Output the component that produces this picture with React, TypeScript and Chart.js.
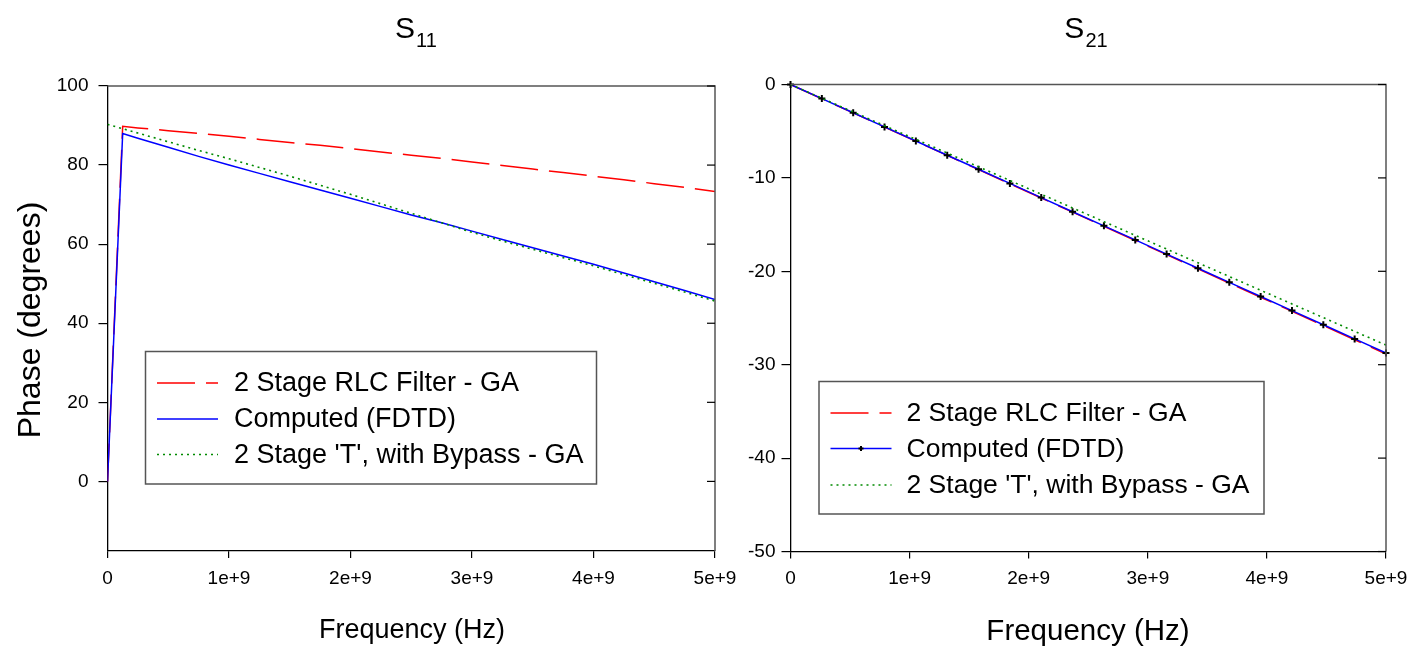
import React, { useEffect, useRef } from "react";
import { Chart, registerables } from "chart.js";

Chart.register(...registerables);

const FONT = '"Liberation Sans", Arial, Helvetica, sans-serif';

// ---------- data ----------
const SERIES_NAMES = ["2 Stage RLC Filter - GA", "Computed (FDTD)", "2 Stage 'T', with Bypass - GA"];

const X_TICKS = [0, 1e9, 2e9, 3e9, 4e9, 5e9];
const S11_Y_TICKS = [0, 20, 40, 60, 80, 100];
const S21_Y_TICKS = [0, -10, -20, -30, -40, -50];

const S11_FREQ = [0, 0.125e9, 0.25e9, 0.5e9, 0.75e9, 1.0e9, 1.25e9, 1.5e9, 1.75e9, 2.0e9, 2.25e9, 2.5e9, 2.75e9, 3.0e9, 3.25e9, 3.5e9, 3.75e9, 4.0e9, 4.25e9, 4.5e9, 4.75e9, 5.0e9];
const S11_RLC = [0, 89.8, 89.4, 88.7, 88.0, 87.3, 86.5, 85.7, 85.0, 84.2, 83.3, 82.5, 81.7, 80.8, 79.9, 79.0, 78.1, 77.2, 76.3, 75.3, 74.4, 73.3];
const S11_FDTD = [0, 88.0, 86.8, 84.5, 82.2, 80.0, 77.9, 75.8, 73.7, 71.6, 69.5, 67.4, 65.4, 63.3, 61.2, 59.1, 57.0, 54.9, 52.7, 50.5, 48.3, 46.0];
const S11_TBYPASS = [90.3, 89.2, 88.1, 85.9, 83.7, 81.6, 79.4, 77.2, 74.9, 72.6, 70.2, 67.8, 65.4, 63.0, 60.8, 58.7, 56.6, 54.5, 52.3, 50.1, 47.9, 45.6];

const S21_FREQ = [0, 0.2632e9, 0.5263e9, 0.7895e9, 1.0526e9, 1.3158e9, 1.5789e9, 1.8421e9, 2.1053e9, 2.3684e9, 2.6316e9, 2.8947e9, 3.1579e9, 3.4211e9, 3.6842e9, 3.9474e9, 4.2105e9, 4.4737e9, 4.7368e9, 5.0e9];
const S21_RLC = [0, -1.52, -3.04, -4.56, -6.07, -7.59, -9.11, -10.63, -12.15, -13.67, -15.18, -16.70, -18.22, -19.74, -21.26, -22.78, -24.29, -25.81, -27.33, -28.85];
const S21_FDTD = [0, -1.51, -3.03, -4.54, -6.05, -7.57, -9.08, -10.59, -12.11, -13.62, -15.13, -16.64, -18.16, -19.67, -21.18, -22.70, -24.21, -25.72, -27.24, -28.75];
const S21_TBYPASS = [0, -1.47, -2.94, -4.41, -5.87, -7.34, -8.81, -10.28, -11.75, -13.22, -14.68, -16.15, -17.62, -19.09, -20.56, -22.03, -23.49, -24.96, -26.43, -27.90];

// ---------- styles ----------
const RED = "#ff0000";
const BLUE = "#0000ff";
const GREEN = "#008a00";
const RED_DASH = [38, 11];
const GREEN_DASH = [2, 4];

const zip = (xs: number[], ys: number[]) => xs.map((x, i) => ({ x, y: ys[i] }));
const fmtFreq = (v: number) => (v === 0 ? "0" : `${Math.round(v / 1e9)}e+9`);

type LegendCfg = { x: number; y: number; w: number; h: number; rows: number[]; sx0: number; sx1: number; tx: number; size: number; marker: boolean };
type DecorCfg = {
  id: string;
  yTicks: number[];
  tick: number;
  title: string;
  sub: string;
  titleCx: number;
  titleY: number;
  xTitle: string;
  xTitleCx: number;
  xTitleY: number;
  xTitleSize: number;
  yTitle?: string;
  yTitleX?: number;
  yTitleCy?: number;
  yTitleSize?: number;
  legend: LegendCfg;
};

function drawCross(ctx: CanvasRenderingContext2D, x: number, y: number, r: number) {
  ctx.beginPath();
  ctx.moveTo(x - r, y);
  ctx.lineTo(x + r, y);
  ctx.moveTo(x, y - r);
  ctx.lineTo(x, y + r);
  ctx.stroke();
}

function decorPlugin(cfg: DecorCfg) {
  return {
    id: cfg.id,
    afterDraw(chart: any) {
      const { ctx, chartArea: a, scales } = chart;
      const ys = scales.y;
      ctx.save();
      // frame (top & right)
      ctx.setLineDash([]);
      ctx.strokeStyle = "#555";
      ctx.lineWidth = 1.5;
      ctx.beginPath();
      ctx.moveTo(a.left, a.top);
      ctx.lineTo(a.right, a.top);
      ctx.lineTo(a.right, a.bottom);
      ctx.stroke();
      // inward ticks on right side
      ctx.strokeStyle = "#000";
      ctx.lineWidth = 1.2;
      for (const v of cfg.yTicks) {
        const py = ys.getPixelForValue(v);
        ctx.beginPath();
        ctx.moveTo(a.right - cfg.tick, py);
        ctx.lineTo(a.right, py);
        ctx.stroke();
      }
      // title with subscript
      ctx.fillStyle = "#000";
      ctx.textBaseline = "alphabetic";
      ctx.textAlign = "left";
      ctx.font = `30px ${FONT}`;
      const wS = ctx.measureText(cfg.title).width;
      ctx.font = `20px ${FONT}`;
      const wSub = ctx.measureText(cfg.sub).width;
      const x0 = cfg.titleCx - (wS + 1 + wSub) / 2;
      ctx.font = `30px ${FONT}`;
      ctx.fillText(cfg.title, x0, cfg.titleY);
      ctx.font = `20px ${FONT}`;
      ctx.fillText(cfg.sub, x0 + wS + 1, cfg.titleY + 8.5);
      // x axis title
      ctx.textAlign = "center";
      ctx.textBaseline = "middle";
      ctx.font = `${cfg.xTitleSize}px ${FONT}`;
      ctx.fillText(cfg.xTitle, cfg.xTitleCx, cfg.xTitleY);
      // y axis title
      if (cfg.yTitle) {
        ctx.save();
        ctx.translate(cfg.yTitleX!, cfg.yTitleCy!);
        ctx.rotate(-Math.PI / 2);
        ctx.font = `${cfg.yTitleSize}px ${FONT}`;
        ctx.fillText(cfg.yTitle, 0, 0);
        ctx.restore();
      }
      // legend
      const L = cfg.legend;
      ctx.fillStyle = "#fff";
      ctx.fillRect(L.x, L.y, L.w, L.h);
      ctx.strokeStyle = "#555";
      ctx.lineWidth = 1.5;
      ctx.strokeRect(L.x, L.y, L.w, L.h);
      const colors = [RED, BLUE, GREEN];
      const dashes = [RED_DASH, [], GREEN_DASH];
      ctx.textAlign = "left";
      ctx.textBaseline = "middle";
      ctx.font = `${L.size}px ${FONT}`;
      SERIES_NAMES.forEach((name, i) => {
        const ry = L.rows[i];
        ctx.strokeStyle = colors[i];
        ctx.lineWidth = 1.5;
        ctx.setLineDash(dashes[i]);
        ctx.beginPath();
        ctx.moveTo(L.sx0, ry);
        ctx.lineTo(L.sx1, ry);
        ctx.stroke();
        ctx.setLineDash([]);
        if (i === 1 && L.marker) {
          ctx.strokeStyle = "#000";
          ctx.lineWidth = 2;
          drawCross(ctx, (L.sx0 + L.sx1) / 2, ry, 2.5);
        }
        ctx.fillStyle = "#000";
        ctx.fillText(name, L.tx, ry + 1);
      });
      ctx.restore();
    },
  };
}

function makeConfig(opts: {
  freq: number[];
  rlc: number[];
  fdtd: number[];
  tb: number[];
  yMin: number;
  yMax: number;
  yTicks: number[];
  yWidth: number;
  xHeight: number;
  padTop: number;
  padRight: number;
  yTickLen: number;
  yPad: number;
  markers: boolean;
  decor: DecorCfg;
}) {
  const tickFont = { family: FONT, size: 19 };
  return {
    type: "line" as const,
    data: {
      datasets: [
        {
          label: SERIES_NAMES[2],
          data: zip(opts.freq, opts.tb),
          borderColor: GREEN,
          borderWidth: 1.6,
          borderDash: GREEN_DASH,
          pointRadius: 0,
          fill: false,
          tension: 0,
        },
        {
          label: SERIES_NAMES[1],
          data: zip(opts.freq, opts.fdtd),
          borderColor: BLUE,
          borderWidth: 1.5,
          pointRadius: opts.markers ? 3.5 : 0,
          pointStyle: "cross",
          pointBorderColor: "#000",
          pointBorderWidth: 2,
          fill: false,
          tension: 0,
          clip: opts.markers ? 6 : undefined,
        },
        {
          label: SERIES_NAMES[0],
          data: zip(opts.freq, opts.rlc),
          borderColor: RED,
          borderWidth: 1.5,
          borderDash: RED_DASH,
          pointRadius: 0,
          fill: false,
          tension: 0,
        },
      ],
    },
    options: {
      responsive: false,
      animation: false,
      devicePixelRatio: 1,
      layout: { autoPadding: false, padding: { left: 0, top: opts.padTop, right: opts.padRight, bottom: 0 } },
      plugins: { legend: { display: false }, tooltip: { enabled: false }, title: { display: false } },
      scales: {
        x: {
          type: "linear",
          min: 0,
          max: 5e9,
          afterBuildTicks: (s: any) => {
            s.ticks = X_TICKS.map((v) => ({ value: v }));
          },
          afterFit: (s: any) => {
            s.height = opts.xHeight;
            s.paddingLeft = 0;
            s.paddingRight = 0;
          },
          ticks: { callback: (v: any) => fmtFreq(Number(v)), font: tickFont, color: "#000", padding: 9, maxRotation: 0, autoSkip: false },
          grid: { drawOnChartArea: false, drawTicks: true, tickLength: 7, color: "#000", lineWidth: 1.2 },
          border: { display: true, color: "#000", width: 1.3 },
        },
        y: {
          type: "linear",
          min: opts.yMin,
          max: opts.yMax,
          afterBuildTicks: (s: any) => {
            s.ticks = opts.yTicks.map((v) => ({ value: v }));
          },
          afterFit: (s: any) => {
            s.width = opts.yWidth;
            s.paddingTop = 0;
            s.paddingBottom = 0;
          },
          ticks: { font: tickFont, color: "#000", padding: opts.yPad, autoSkip: false },
          grid: { drawOnChartArea: false, drawTicks: true, tickLength: opts.yTickLen, color: "#000", lineWidth: 1.2 },
          border: { display: true, color: "#000", width: 1.3 },
        },
      },
    },
    plugins: [decorPlugin(opts.decor)],
  };
}

const LEFT_W = 745;
const RIGHT_X = 725;
const RIGHT_W = 687;
const H = 649;

function ChartCanvas({ config, left, width }: { config: any; left: number; width: number }) {
  const ref = useRef<HTMLCanvasElement | null>(null);
  useEffect(() => {
    if (!ref.current) return;
    const chart = new Chart(ref.current, config);
    return () => chart.destroy();
  }, [config]);
  return (
    <canvas
      ref={ref}
      width={width}
      height={H}
      style={{ position: "absolute", left, top: 0, width, height: H, display: "block" }}
    />
  );
}

const leftConfig = makeConfig({
  freq: S11_FREQ,
  rlc: S11_RLC,
  fdtd: S11_FDTD,
  tb: S11_TBYPASS,
  yMin: -17.6,
  yMax: 100,
  yTicks: S11_Y_TICKS,
  yWidth: 107.5,
  xHeight: 98,
  padTop: 86,
  padRight: LEFT_W - 715,
  yTickLen: 9,
  yPad: 10,
  markers: false,
  decor: {
    id: "decorLeft",
    yTicks: S11_Y_TICKS,
    tick: 8,
    title: "S",
    sub: "11",
    titleCx: 416,
    titleY: 38,
    xTitle: "Frequency (Hz)",
    xTitleCx: 412,
    xTitleY: 631,
    xTitleSize: 27,
    yTitle: "Phase (degrees)",
    yTitleX: 31,
    yTitleCy: 320,
    yTitleSize: 32,
    legend: { x: 145.5, y: 351.5, w: 451, h: 132.5, rows: [383, 419, 454.5], sx0: 157, sx1: 218, tx: 234, size: 27, marker: false },
  },
});

const rightConfig = makeConfig({
  freq: S21_FREQ,
  rlc: S21_RLC,
  fdtd: S21_FDTD,
  tb: S21_TBYPASS,
  yMin: -50,
  yMax: 0,
  yTicks: S21_Y_TICKS,
  yWidth: 790.5 - RIGHT_X,
  xHeight: H - 551.5,
  padTop: 84.5,
  padRight: RIGHT_W - (1386 - RIGHT_X),
  yTickLen: 9,
  yPad: 6,
  markers: true,
  decor: {
    id: "decorRight",
    yTicks: S21_Y_TICKS,
    tick: 8,
    title: "S",
    sub: "21",
    titleCx: 1086 - RIGHT_X,
    titleY: 38,
    xTitle: "Frequency (Hz)",
    xTitleCx: 1088 - RIGHT_X,
    xTitleY: 632,
    xTitleSize: 29.5,
    legend: { x: 819 - RIGHT_X, y: 381.5, w: 445, h: 132.5, rows: [413, 448.5, 485], sx0: 830.5 - RIGHT_X, sx1: 891.5 - RIGHT_X, tx: 906.5 - RIGHT_X, size: 26.5, marker: true },
  },
});

export default function App() {
  return (
    <div style={{ position: "fixed", left: 0, top: 0, width: 1412, height: H, background: "#fff" }}>
      <ChartCanvas config={leftConfig} left={0} width={LEFT_W} />
      <ChartCanvas config={rightConfig} left={RIGHT_X} width={RIGHT_W} />
    </div>
  );
}
